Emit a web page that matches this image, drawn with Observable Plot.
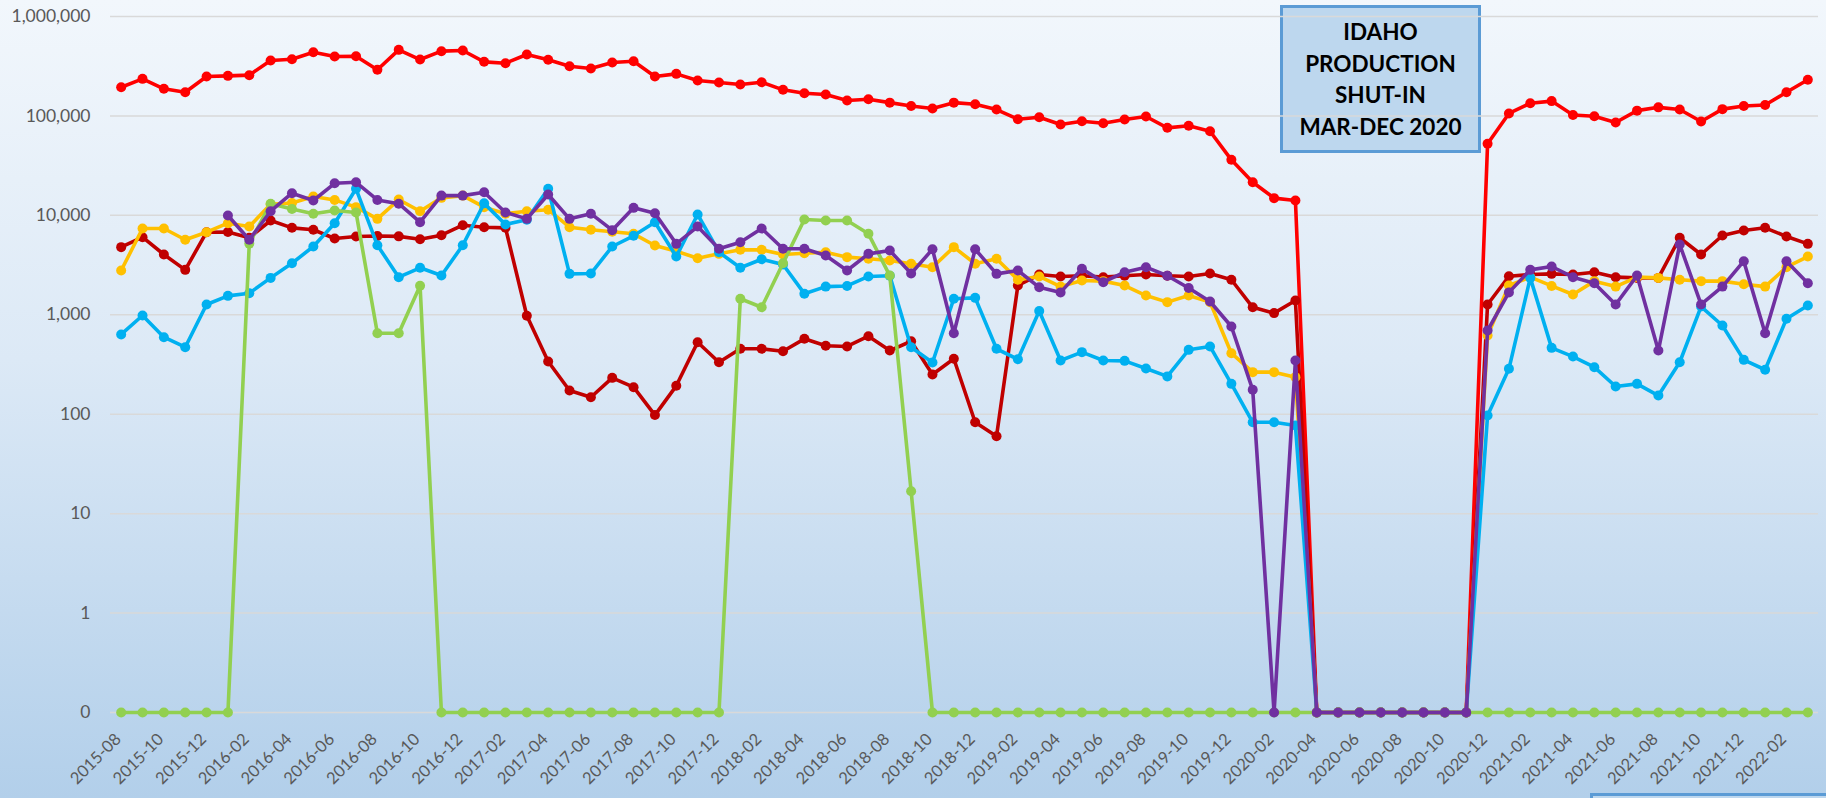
<!DOCTYPE html>
<html>
<head>
<meta charset="utf-8">
<script src="https://cdn.jsdelivr.net/npm/d3@7"></script>
<script src="https://cdn.jsdelivr.net/npm/@observablehq/plot@0.6"></script>
<style>
html, body { margin: 0; padding: 0; }
#wrap { position: relative; width: 1826px; height: 798px; overflow: hidden;
  background: linear-gradient(to bottom, #F2F7FC 0%, #DCE9F6 45%, #B2CFEA 100%);
  font-family: Lato, "Open Sans", sans-serif; }
#chart { position: absolute; left: 0; top: 0; z-index: 2; }
#chart svg { background: transparent; display: block; }
#note { position: absolute; left: 1280px; top: 5px; width: 201px; height: 148px; box-sizing: border-box;
  border: 3px solid #5B9BD5; background: #BDD7EE; z-index: 1;
  font-weight: 700; font-size: 22.5px; line-height: 31.5px; color: #000; text-align: center; padding-top: 8px; }
#box2 { position: absolute; left: 1590px; top: 793px; width: 260px; height: 30px; box-sizing: border-box;
  border: 3px solid #5B9BD5; background: #BDD7EE; z-index: 3; }
</style>
</head>
<body>
<div id="wrap">
  <div id="note">IDAHO<br>PRODUCTION<br>SHUT-IN<br>MAR-DEC 2020</div>
  <div id="chart"></div>
  <div id="box2"></div>
</div>
<script>
const months = [
  "2015-08","2015-09","2015-10","2015-11","2015-12",
  "2016-01","2016-02","2016-03","2016-04","2016-05","2016-06","2016-07","2016-08","2016-09","2016-10","2016-11","2016-12",
  "2017-01","2017-02","2017-03","2017-04","2017-05","2017-06","2017-07","2017-08","2017-09","2017-10","2017-11","2017-12",
  "2018-01","2018-02","2018-03","2018-04","2018-05","2018-06","2018-07","2018-08","2018-09","2018-10","2018-11","2018-12",
  "2019-01","2019-02","2019-03","2019-04","2019-05","2019-06","2019-07","2019-08","2019-09","2019-10","2019-11","2019-12",
  "2020-01","2020-02","2020-03","2020-04","2020-05","2020-06","2020-07","2020-08","2020-09","2020-10","2020-11","2020-12",
  "2021-01","2021-02","2021-03","2021-04","2021-05","2021-06","2021-07","2021-08","2021-09","2021-10","2021-11","2021-12",
  "2022-01","2022-02","2022-03"
];
const xTickLabels = [
  "2015-08","2015-10","2015-12","2016-02","2016-04","2016-06","2016-08","2016-10","2016-12",
  "2017-02","2017-04","2017-06","2017-08","2017-10","2017-12","2018-02","2018-04","2018-06","2018-08","2018-10","2018-12",
  "2019-02","2019-04","2019-06","2019-08","2019-10","2019-12","2020-02","2020-04","2020-06","2020-08","2020-10","2020-12",
  "2021-02","2021-04","2021-06","2021-08","2021-10","2021-12","2022-02"
];
const yTickValues = [0, 1, 10, 100, 1000, 10000, 100000, 1000000];

const redSeries = [194500,236000,187500,173000,249000,253000,257000,361000,372000,437000,396000,399000,291000,462000,369000,448000,455000,350000,339000,415000,367000,316000,300000,345000,355000,249000,265000,227000,217000,207000,218000,183000,169000,164000,143000,147000,136000,126000,119000,136000,131000,116000,92700,97000,82000,88500,84500,92000,98700,75900,79600,70200,36200,21500,14900,14100,0,0,0,0,0,0,0,0,52400,106000,134000,141000,102000,99300,85900,113000,122000,116000,87900,117000,126000,129000,173000,231000];
const darkRedSeries = [4790,6030,4040,2830,6770,6800,5950,8880,7490,7160,5850,6130,6200,6150,5760,6310,7960,7600,7490,977,339,173,148,232,187,98,193,530,333,455,455,430,573,488,480,609,437,542,251,361,83,60,1970,2540,2430,2470,2390,2470,2540,2470,2430,2600,2250,1190,1040,1390,0,0,0,0,0,0,0,0,1270,2440,2540,2580,2540,2680,2390,2350,2350,5950,4040,6270,7040,7490,6130,5170];
const orangeSeries = [2790,7380,7380,5680,6770,8340,7720,12900,13300,15500,14300,12100,9220,14400,11000,15000,15800,12100,10400,11000,11400,7600,7160,6830,6520,4980,4360,3710,4100,4500,4500,4040,4160,4260,3800,3660,3510,3260,3010,4790,3260,3660,2250,2430,1920,2210,2180,1970,1560,1340,1560,1340,411,265,265,236,0,0,0,0,0,0,0,0,619,1970,2390,1950,1600,2180,1920,2390,2350,2250,2180,2180,2030,1920,3010,3850];
const blueSeries = [634,984,595,472,1270,1550,1650,2350,3300,4860,8340,18500,5010,2390,2970,2480,5010,13200,8090,9020,18500,2580,2600,4860,6230,8530,3850,10200,4260,2970,3620,3200,1630,1920,1950,2430,2470,472,331,1450,1480,455,357,1090,347,421,347,344,288,240,444,480,202,83,83,77,0,0,0,0,0,0,0,0,97,286,2350,465,380,297,190,202,154,333,1210,780,352,280,911,1240];
const greenSeries = [0,0,0,0,0,0,5200,13100,11600,10400,11200,10700,653,653,1960,0,0,0,0,0,0,0,0,0,0,0,0,0,0,1450,1190,3300,9080,8880,8880,6520,2480,16.8,0,0,0,0,0,0,0,0,0,0,0,0,0,0,0,0,0,0,0,0,0,0,0,0,0,0,0,0,0,0,0,0,0,0,0,0,0,0,0,0,0,0];
const purpleSeries = [null,null,null,null,null,9960,5680,11000,16700,14100,21000,21500,14300,13100,8530,15800,15800,17100,10700,9220,16200,9220,10400,7100,11900,10500,5170,7720,4610,5370,7380,4610,4610,3950,2790,4100,4430,2600,4560,653,4560,2580,2790,1890,1680,2900,2130,2680,3010,2470,1860,1360,762,176,0,347,0,0,0,0,0,0,0,0,695,1680,2830,3060,2390,2080,1270,2480,437,5090,1270,1920,3460,653,3460,2080];

const seriesColors = ["#FF0000", "#C00000", "#FFC000", "#00B0F0", "#92D050", "#7030A0"];
const allSeries = [redSeries, darkRedSeries, orangeSeries, blueSeries, greenSeries, purpleSeries];

// zero is drawn at the "0" level of the log axis (one decade below 1)
const ZERO = 0.1;
const toPlot = v => (v === 0 ? ZERO : v);
const yTicks = yTickValues.map(toPlot);

const seriesMarks = [];
allSeries.forEach((vals, k) => {
  const rows = [];
  vals.forEach((v, i) => { if (v != null) rows.push({month: months[i], value: toPlot(v)}); });
  seriesMarks.push(Plot.line(rows, {x: "month", y: "value", stroke: seriesColors[k], strokeWidth: 3.6, strokeLinejoin: "round", strokeLinecap: "round"}));
  seriesMarks.push(Plot.dot(rows, {x: "month", y: "value", fill: seriesColors[k], r: 5}));
});

const chart = Plot.plot({
  width: 1826,
  height: 798,
  marginLeft: 110,
  marginRight: 8,
  marginTop: 16,
  marginBottom: 86,
  style: {background: "transparent", fontFamily: "Lato, 'Open Sans', sans-serif", color: "#595959"},
  x: {type: "point", domain: months, padding: 0.5, round: false, axis: null},
  y: {type: "log", domain: [ZERO, 1000000], axis: null},
  marks: [
    Plot.ruleY(yTicks, {stroke: "#D9D9D9", strokeWidth: 1.5}),
    Plot.axisY({ticks: yTicks, tickSize: 0, tickPadding: 20, fontSize: 17.5, label: null,
      tickFormat: d => (d < 1 ? "0" : d3.format(",")(d))}),
    Plot.axisX({ticks: xTickLabels, tickSize: 0, tickPadding: 24, dx: -3, tickRotate: -45, fontSize: 16.5, label: null}),
    ...seriesMarks
  ]
});
document.getElementById("chart").appendChild(chart);
</script>
</body>
</html>
